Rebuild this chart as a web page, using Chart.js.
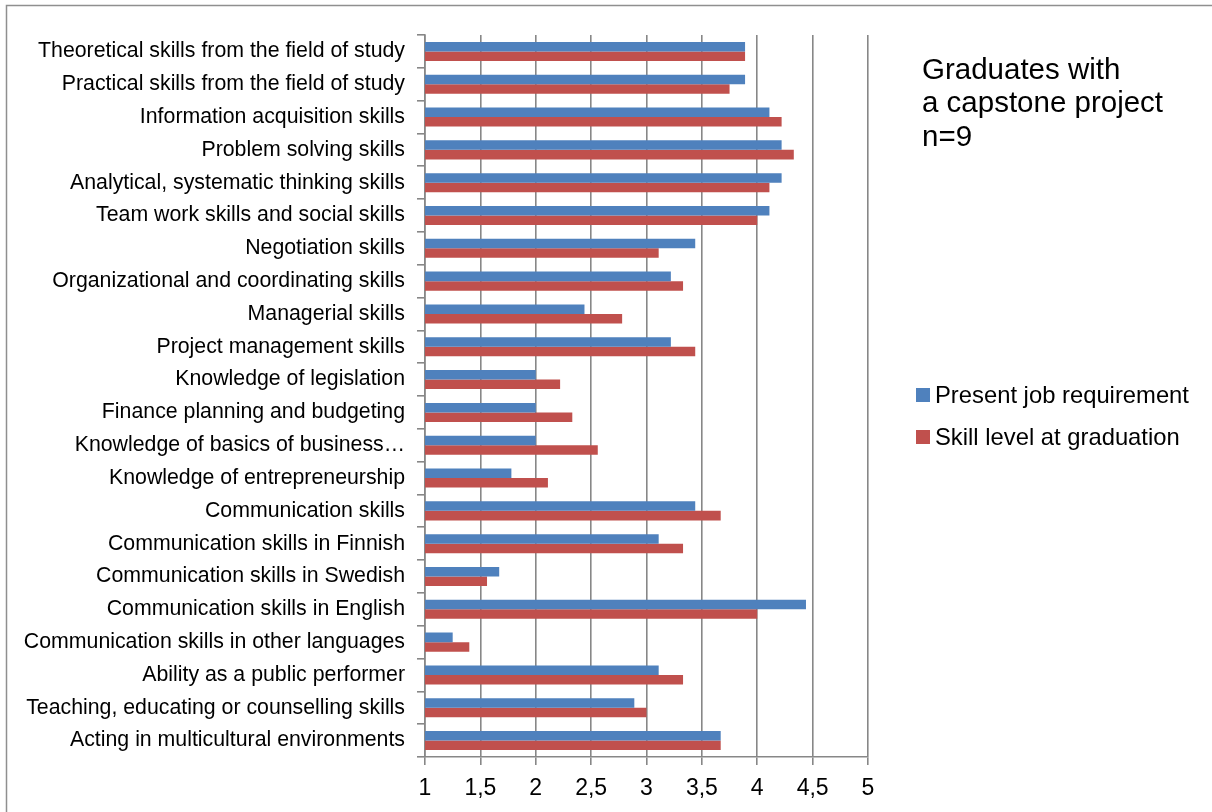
<!DOCTYPE html>
<html>
<head>
<meta charset="utf-8">
<script src="https://cdn.jsdelivr.net/npm/chart.js@4"></script>
<style>
  html, body { margin: 0; padding: 0; background: #fff; }
  #wrap { width: 1212px; height: 812px; position: relative; }
</style>
</head>
<body>
<div id="wrap"><canvas id="c" width="1212" height="812"></canvas></div>
<script>
// Skill categories, top to bottom
const skills = [
  'Theoretical skills from the field of study',
  'Practical skills from the field of study',
  'Information acquisition skills',
  'Problem solving skills',
  'Analytical, systematic thinking skills',
  'Team work skills and social skills',
  'Negotiation skills',
  'Organizational and coordinating skills',
  'Managerial skills',
  'Project management skills',
  'Knowledge of legislation',
  'Finance planning and budgeting',
  'Knowledge of basics of business\u2026',
  'Knowledge of entrepreneurship',
  'Communication skills',
  'Communication skills in Finnish',
  'Communication skills in Swedish',
  'Communication skills in English',
  'Communication skills in other languages',
  'Ability as a public performer',
  'Teaching, educating or counselling skills',
  'Acting in multicultural environments'
];

// Mean ratings (scale 1-5)
const presentJobRequirement = [
  3.89, 3.89, 4.11, 4.22, 4.22, 4.11, 3.44, 3.22, 2.44, 3.22, 2.00,
  2.00, 2.00, 1.78, 3.44, 3.11, 1.67, 4.44, 1.25, 3.11, 2.89, 3.67
];
const skillLevelAtGraduation = [
  3.89, 3.75, 4.22, 4.33, 4.11, 4.00, 3.11, 3.33, 2.78, 3.44, 2.22,
  2.33, 2.56, 2.11, 3.67, 3.33, 1.56, 4.00, 1.40, 3.33, 3.00, 3.67
];

const seriesNames = ['Present job requirement', 'Skill level at graduation'];
const seriesColors = ['#4F81BD', '#C0504D'];

const xTickLabels = ['1', '1,5', '2', '2,5', '3', '3,5', '4', '4,5', '5'];
const titleLines = ['Graduates with', 'a capstone project', 'n=9'];

const FONT = '"Liberation Sans", Arial, Helvetica, sans-serif';
const GRID = '#878787';

// Outer frame of the chart object
const framePlugin = {
  id: 'frame',
  beforeDraw(chart) {
    const ctx = chart.ctx;
    ctx.save();
    ctx.fillStyle = '#ffffff';
    ctx.fillRect(0, 0, chart.width, chart.height);
    ctx.strokeStyle = '#8f8f8f';
    ctx.lineWidth = 1.5;
    ctx.strokeRect(6.5, 5.5, chart.width + 50, chart.height + 50);
    ctx.restore();
  }
};

// Text block and legend on the right-hand side
const sidePlugin = {
  id: 'side',
  afterDraw(chart) {
    const ctx = chart.ctx;
    ctx.save();
    ctx.fillStyle = '#000';
    ctx.textAlign = 'left';
    ctx.textBaseline = 'alphabetic';
    ctx.font = '29.5px ' + FONT;
    titleLines.forEach((t, i) => ctx.fillText(t, 922, 79 + i * 33.3));

    ctx.font = '23.8px ' + FONT;
    ctx.textBaseline = 'middle';
    chart.data.datasets.forEach((ds, i) => {
      const cy = 395 + i * 42;
      ctx.fillStyle = ds.backgroundColor;
      ctx.fillRect(916, cy - 7, 14, 14);
      ctx.fillStyle = '#000';
      ctx.fillText(ds.label, 935, cy + 1);
    });
    ctx.restore();
  }
};

new Chart(document.getElementById('c'), {
  type: 'bar',
  data: {
    labels: skills,
    datasets: [
      { label: seriesNames[0], data: presentJobRequirement, backgroundColor: seriesColors[0] },
      { label: seriesNames[1], data: skillLevelAtGraduation, backgroundColor: seriesColors[1] }
    ]
  },
  options: {
    indexAxis: 'y',
    responsive: false,
    animation: false,
    devicePixelRatio: 1,
    layout: { padding: { top: 35, right: 344, left: 0, bottom: 0 } },
    datasets: { bar: { categoryPercentage: 0.58, barPercentage: 1.0 } },
    plugins: { legend: { display: false }, tooltip: { enabled: false } },
    scales: {
      x: {
        min: 1, max: 5,
        afterFit(s) { s.height = 55; },
        ticks: {
          stepSize: 0.5,
          autoSkip: false,
          maxRotation: 0,
          padding: 10,
          color: '#000',
          font: { family: FONT, size: 23 },
          callback: (v, i) => xTickLabels[i]
        },
        grid: { color: GRID, lineWidth: 1.6, tickLength: 8, tickColor: GRID },
        border: { color: GRID, width: 1.6 }
      },
      y: {
        afterFit(s) { s.width = 425; },
        ticks: {
          autoSkip: false,
          padding: 12,
          color: '#000',
          font: { family: FONT, size: 21.3 }
        },
        grid: { offset: true, drawOnChartArea: false, tickLength: 8, color: GRID, lineWidth: 1.6 },
        border: { color: GRID, width: 1.6 }
      }
    }
  },
  plugins: [framePlugin, sidePlugin]
});
</script>
</body>
</html>
